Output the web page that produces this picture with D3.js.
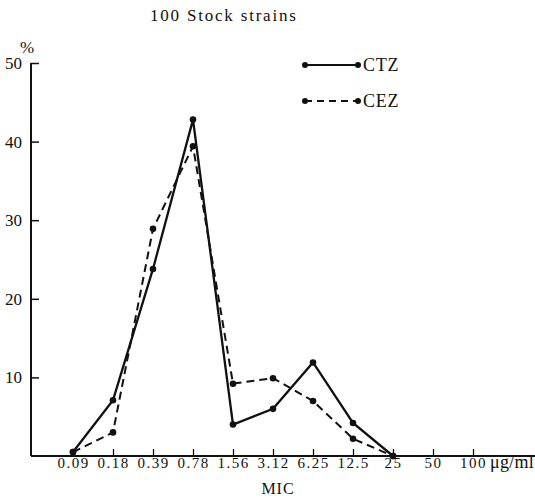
<!DOCTYPE html>
<html>
<head>
<meta charset="utf-8">
<script src="https://cdn.jsdelivr.net/npm/d3@7"></script>
<style>
  body { margin: 0; background: #fff; }
  text { font-family: "Liberation Serif", "DejaVu Serif", serif; fill: #111; }
</style>
</head>
<body>
<div id="chart"></div>
<script>
const micLabels = ["0.09", "0.18", "0.39", "0.78", "1.56", "3.12", "6.25", "12.5", "25", "50", "100"];
const ctz = [0.5, 7.1, 23.8, 42.8, 4.0, 6.0, 11.9, 4.2, 0];
const cez = [0.5, 3.0, 28.9, 39.4, 9.2, 9.9, 7.0, 2.2, 0];
const yTicks = [10, 20, 30, 40, 50];

const width = 535, height = 498;
const svg = d3.select("#chart").append("svg").attr("width", width).attr("height", height);

const x = d3.scalePoint().domain(micLabels).range([73, 473]);
const y = d3.scaleLinear().domain([0, 50]).range([456, 63]);

// axis lines
svg.append("line").attr("x1", 31).attr("x2", 535).attr("y1", y(0)).attr("y2", y(0))
  .attr("stroke", "#111").attr("stroke-width", 2);
svg.append("line").attr("x1", 31).attr("x2", 31).attr("y1", y(0)).attr("y2", y(50))
  .attr("stroke", "#111").attr("stroke-width", 2);

const xAxis = svg.append("g").attr("transform", `translate(0,${y(0)})`)
  .call(d3.axisBottom(x).tickSizeInner(-7).tickSizeOuter(0).tickPadding(1));
xAxis.select(".domain").remove();
xAxis.selectAll("line").attr("stroke", "#111").attr("stroke-width", 1.3);
xAxis.selectAll("text").attr("font-size", 15).attr("letter-spacing", 1.5)
  .attr("font-family", "Liberation Serif").attr("fill", "#111");
svg.append("text").attr("x", x("100") + 17).attr("y", y(0) + 12)
  .attr("font-size", 18).attr("letter-spacing", 0.3).text("\u03bcg/ml");

const yAxis = svg.append("g").attr("transform", "translate(31,0)")
  .call(d3.axisLeft(y).tickValues(yTicks).tickSizeInner(-8).tickSizeOuter(0).tickPadding(9));
yAxis.select(".domain").remove();
yAxis.selectAll("line").attr("stroke", "#111").attr("stroke-width", 1.5);
yAxis.selectAll("text").attr("font-size", 17).attr("font-family", "Liberation Serif").attr("fill", "#111");

svg.append("text").attr("x", 27).attr("y", 53).attr("font-size", 17).attr("text-anchor", "middle").text("%");
svg.append("text").attr("x", 150).attr("y", 21).attr("font-size", 17).attr("letter-spacing", 1.8)
  .text("100 Stock strains");
svg.append("text").attr("x", 278).attr("y", 494).attr("font-size", 16).attr("letter-spacing", 1)
  .attr("text-anchor", "middle").text("MIC");

const line = d3.line().x((d, i) => x(micLabels[i])).y(d => y(d));

function series(data, dash) {
  svg.append("path").datum(data).attr("d", line).attr("fill", "none")
    .attr("stroke", "#111").attr("stroke-width", dash ? 2 : 2.3)
    .attr("stroke-dasharray", dash ? "8,5" : null);
  svg.append("g").selectAll("circle").data(data).join("circle")
    .attr("cx", (d, i) => x(micLabels[i])).attr("cy", d => y(d)).attr("r", 3.3).attr("fill", "#111");
}
series(ctz, false);
series(cez, true);

// legend
const legend = [["CTZ", false, 65], ["CEZ", true, 101]];
legend.forEach(([name, dash, ly]) => {
  svg.append("line").attr("x1", 305).attr("x2", 358).attr("y1", ly).attr("y2", ly)
    .attr("stroke", "#111").attr("stroke-width", 2.2).attr("stroke-dasharray", dash ? "7,5" : null);
  svg.append("circle").attr("cx", 305).attr("cy", ly).attr("r", 3).attr("fill", "#111");
  svg.append("circle").attr("cx", 358).attr("cy", ly).attr("r", 3).attr("fill", "#111");
  svg.append("text").attr("x", 363).attr("y", ly + 6).attr("font-size", 18).attr("letter-spacing", 0.8).text(name);
});
</script>
</body>
</html>
